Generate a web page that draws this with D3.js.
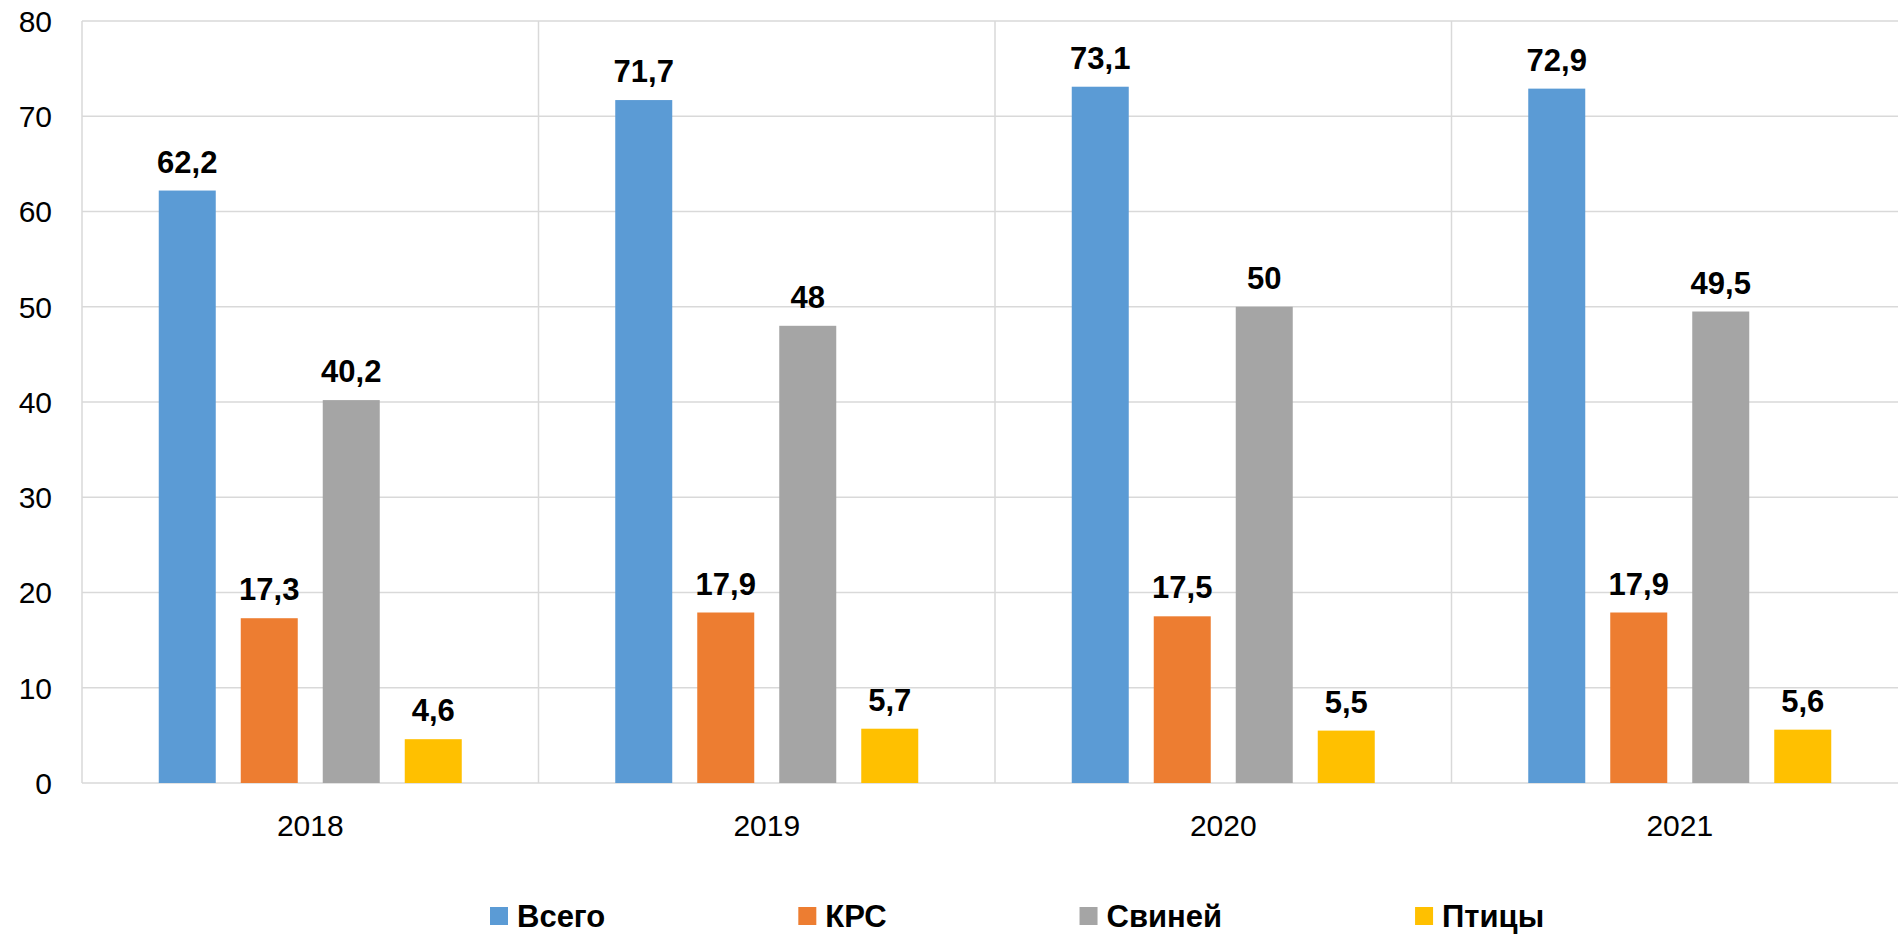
<!DOCTYPE html>
<html>
<head>
<meta charset="utf-8">
<script src="https://cdn.jsdelivr.net/npm/d3@7"></script>
<style>
html,body{margin:0;padding:0;background:#fff;overflow:hidden;}
svg{display:block;}
</style>
</head>
<body>
<svg id="chart" width="1898" height="937"></svg>
<script>
const years = ["2018", "2019", "2020", "2021"];
const seriesNames = ["Всего", "КРС", "Свиней", "Птицы"];
const vsego = [62.2, 71.7, 73.1, 72.9];
const krs = [17.3, 17.9, 17.5, 17.9];
const svinei = [40.2, 48, 50, 49.5];
const ptitsy = [4.6, 5.7, 5.5, 5.6];
const yTicks = [0, 10, 20, 30, 40, 50, 60, 70, 80];
const colors = ["#5B9BD5", "#ED7D31", "#A5A5A5", "#FFC000"];

const seriesValues = [vsego, krs, svinei, ptitsy];

const svg = d3.select("#chart");
const plotLeft = 82, plotRight = 1908, plotTop = 21, plotBottom = 783;
const font = "'Liberation Sans', Arial, sans-serif";
const gridColor = "#d9d9d9";

const y = d3.scaleLinear().domain([0, 80]).range([plotBottom, plotTop]);
const x0 = d3.scaleBand().domain(years).range([plotLeft, plotRight]).paddingInner(0).paddingOuter(0);
const x1 = d3.scaleBand().domain(seriesNames).range([0, x0.bandwidth()])
  .paddingInner(25 / 82).paddingOuter(0.936);

// horizontal gridlines
svg.append("g").selectAll("line").data(yTicks).join("line")
  .attr("x1", plotLeft).attr("x2", plotRight)
  .attr("y1", d => y(d)).attr("y2", d => y(d))
  .attr("stroke", gridColor).attr("stroke-width", 1.5);

// vertical category separators
svg.append("g").selectAll("line").data(years).join("line")
  .attr("x1", d => x0(d)).attr("x2", d => x0(d))
  .attr("y1", y(80)).attr("y2", y(0))
  .attr("stroke", gridColor).attr("stroke-width", 1.5);

// y-axis labels
svg.append("g").selectAll("text").data(yTicks).join("text")
  .attr("x", 52).attr("y", d => y(d)).attr("dy", "0.36em")
  .attr("text-anchor", "end")
  .attr("font-family", font).attr("font-size", 30).attr("fill", "#000")
  .text(d => d);

// x labels
svg.append("g").selectAll("text").data(years).join("text")
  .attr("x", d => x0(d) + x0.bandwidth() / 2).attr("y", 836)
  .attr("text-anchor", "middle")
  .attr("font-family", font).attr("font-size", 30).attr("fill", "#000")
  .text(d => d);

// bars
const flat = [];
years.forEach((yr, i) => {
  seriesNames.forEach((s, j) => {
    flat.push({year: yr, series: s, value: seriesValues[j][i], color: colors[j]});
  });
});

svg.append("g").selectAll("rect").data(flat).join("rect")
  .attr("x", d => x0(d.year) + x1(d.series))
  .attr("width", x1.bandwidth())
  .attr("y", d => y(d.value))
  .attr("height", d => y(0) - y(d.value))
  .attr("fill", d => d.color);

// data labels
svg.append("g").selectAll("text").data(flat).join("text")
  .attr("x", d => x0(d.year) + x1(d.series) + x1.bandwidth() / 2)
  .attr("y", d => y(d.value) - 18)
  .attr("text-anchor", "middle")
  .attr("font-family", font).attr("font-size", 31).attr("font-weight", "bold").attr("fill", "#000")
  .text(d => String(d.value).replace(".", ","));

// legend
const lg = svg.append("g");
let lx = 490;
seriesNames.forEach((s, j) => {
  lg.append("rect").attr("x", lx).attr("y", 907).attr("width", 18).attr("height", 18).attr("fill", colors[j]);
  const t = lg.append("text").attr("x", lx + 27).attr("y", 927)
    .attr("font-family", font).attr("font-size", 31).attr("font-weight", "bold").attr("fill", "#000")
    .text(s);
  const w = t.node().getComputedTextLength();
  lx = lx + 27 + w + 193;
});
</script>
</body>
</html>
